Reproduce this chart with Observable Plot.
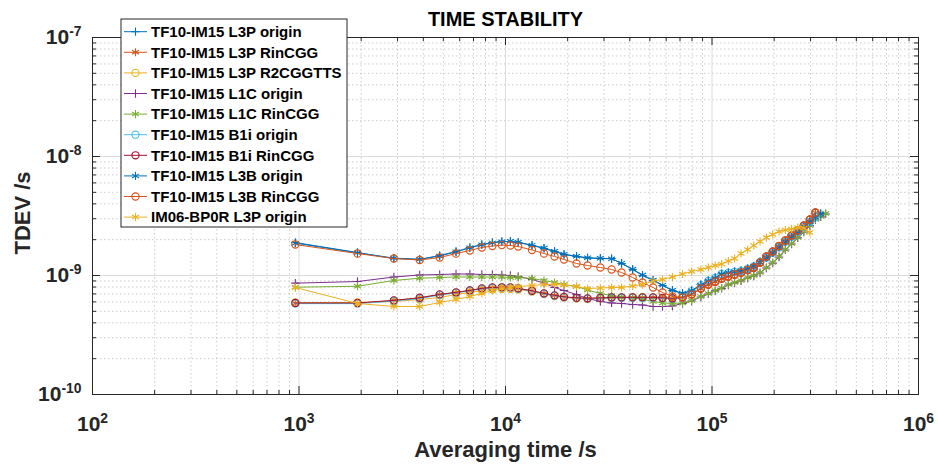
<!DOCTYPE html>
<html><head><meta charset="utf-8">
<script src="https://cdn.jsdelivr.net/npm/d3@7"></script>
<script src="https://cdn.jsdelivr.net/npm/@observablehq/plot@0.6"></script>
<style>body{margin:0;background:#fff;} #chart{width:938px;height:465px;}</style>
</head><body><div id="chart"></div>
<script>
// ---------- data ----------
const title = "TIME STABILITY";
const xLabel = "Averaging time /s";
const yLabel = "TDEV /s";
const xTicks = [1e2, 1e3, 1e4, 1e5, 1e6];
const yTicks = [1e-10, 1e-9, 1e-8, 1e-7];

// averaging times (s)
const taus = [960,1920,2880,3840,4800,5760,6720,7680,8640,9600,10560,11520,13440,15360,17280,19200,22080,24960,28800,32640,36480,41280,46080,51840,57600,64320,72000,79680,88320,96000,103680,111360,120000,128640,138240,148800,159360,170880,183360,196800,211200,226560,242880,260160,278400,297600,316800,336000,355200];

const seriesNames = ["TF10-IM15 L3P origin","TF10-IM15 L3P RinCGG","TF10-IM15 L3P R2CGGTTS","TF10-IM15 L1C origin","TF10-IM15 L1C RinCGG","TF10-IM15 B1i origin","TF10-IM15 B1i RinCGG","TF10-IM15 L3B origin","TF10-IM15 L3B RinCGG","IM06-BP0R L3P origin"];
const seriesColors = ["#0072BD","#D95319","#EDB120","#7E2F8E","#77AC30","#4DBEEE","#A2142F","#0072BD","#D95319","#EDB120"];
const seriesSymbols = ["plus","asterisk","circle","plus","asterisk","circle","circle","asterisk","circle","asterisk"];

// TDEV values in ns (converted to s below)
const l3pOrigin = [1.893,1.560,1.389,1.363,1.473,1.591,1.719,1.821,1.893,1.930,1.930,1.893,1.787,1.686,1.591,1.501,1.444,1.403,1.389,1.389,1.261,1.123,1.000,0.908,0.824,0.748,0.706,0.748,0.840,0.908,0.962,1.039,1.060,1.080,1.102,1.145,1.202,1.311,1.417,1.560,1.735,1.930,2.127,2.343,2.581,2.843,3.10,3.319];
const l3pRinCGG = [0.585,0.585,0.616,0.647,0.692,0.720,0.748,0.778,0.793,0.793,0.793,0.778,0.741,0.706,0.679,0.660,0.647,0.641,0.647,0.653,0.653,0.653,0.653,0.653,0.647,0.641,0.653,0.692,0.775,0.836,0.885,0.940,0.977,1.015,1.055,1.108,1.160,1.280,1.440,1.585,1.765,1.960,2.160,2.380,2.620,2.940,3.360];
const l3pR2CGGTTS = [0.593,0.593,0.605,0.628,0.653,0.692,0.720,0.748,0.763,0.770,0.770,0.763,0.734,0.699,0.672,0.653,0.641,0.634,0.641,0.647,0.653,0.660,0.660,0.653,0.647,0.653,0.666,0.699,0.780,0.840,0.888,0.942,0.979,1.018,1.058,1.110,1.163,1.283,1.442,1.588,1.768,1.964,2.164,2.384,2.626,2.948,3.370];
const l1cOrigin = [0.862,0.890,0.971,1.010,1.020,1.030,1.030,1.020,1.020,1.010,1.000,0.981,0.926,0.865,0.793,0.748,0.692,0.641,0.605,0.588,0.582,0.571,0.565,0.549,0.549,0.554,0.582,0.610,0.660,0.700,0.742,0.780,0.832,0.865,0.900,0.953,0.990,1.050,1.156,1.270,1.430,1.640,1.840,2.070,2.320,2.610,2.930,3.110,3.290];
const l1cRinCGG = [0.797,0.812,0.908,0.949,0.962,0.971,0.971,0.971,0.971,0.971,0.962,0.962,0.944,0.908,0.873,0.840,0.808,0.755,0.706,0.679,0.660,0.647,0.634,0.605,0.588,0.582,0.588,0.616,0.666,0.706,0.748,0.785,0.840,0.873,0.908,0.962,1.000,1.060,1.167,1.286,1.444,1.654,1.857,2.086,2.343,2.632,2.955,3.132,3.319];
const b1iOrigin = [0.580,0.580,0.610,0.640,0.685,0.715,0.745,0.770,0.785,0.790,0.790,0.776,0.740,0.700,0.675,0.657,0.645,0.640,0.645,0.650,0.650,0.650,0.650,0.650,0.645,0.640,0.650,0.740,0.830,0.900,0.955,1.030,1.050,1.070,1.090,1.135,1.190,1.300,1.410,1.550,1.725,1.920,2.115,2.330,2.570,2.830,3.090];
const b1iRinCGG = [0.588,0.588,0.618,0.650,0.694,0.722,0.750,0.780,0.795,0.796,0.795,0.780,0.744,0.708,0.681,0.662,0.649,0.643,0.648,0.655,0.655,0.655,0.655,0.655,0.649,0.643,0.655,0.694,0.777,0.838,0.887,0.942,0.979,1.017,1.057,1.110,1.163,1.283,1.442,1.588,1.768,1.964,2.164,2.384,2.626,2.948,3.370];
const l3bOrigin = [1.87,1.55,1.40,1.37,1.46,1.58,1.71,1.81,1.88,1.92,1.94,1.90,1.80,1.70,1.60,1.51,1.45,1.41,1.395,1.38,1.27,1.13,1.01,0.915,0.83,0.752,0.71,0.745,0.83,0.90,0.955,1.03,1.055,1.075,1.095,1.14,1.195,1.30,1.41,1.55,1.725,1.92,2.12,2.33,2.57,2.83,3.08,3.30];
const l3bRinCGG = [1.821,1.530,1.389,1.350,1.417,1.530,1.622,1.719,1.770,1.800,1.787,1.752,1.638,1.530,1.444,1.363,1.261,1.214,1.167,1.123,1.060,0.962,0.873,0.793,0.720,0.666,0.653,0.692,0.778,0.840,0.890,0.944,0.981,1.020,1.060,1.112,1.167,1.286,1.444,1.591,1.770,1.968,2.168,2.389,2.632,2.955,3.383];
const im06Origin = [0.793,0.582,0.549,0.549,0.593,0.628,0.666,0.706,0.748,0.778,0.793,0.808,0.824,0.840,0.840,0.832,0.808,0.778,0.785,0.793,0.793,0.816,0.840,0.899,0.926,0.971,1.030,1.080,1.123,1.167,1.214,1.249,1.324,1.389,1.530,1.654,1.787,1.930,2.086,2.211,2.343,2.412,2.460,2.532,2.510,2.298];

const seriesValues = [l3pOrigin,l3pRinCGG,l3pR2CGGTTS,l1cOrigin,l1cRinCGG,b1iOrigin,b1iRinCGG,l3bOrigin,l3bRinCGG,im06Origin];
const NS = 1e-9;

// ---------- build ----------
const rows = [];
seriesValues.forEach((vals, i) => vals.forEach((v, j) => rows.push({idx: i, tau: taus[j], tdev: v * NS})));

const W = 938, H = 465, mL = 92, mR = 20, mT = 37, mB = 71;
const innerW = W - mL - mR, innerH = H - mT - mB;

const minorX = [], minorY = [];
for (let k = 2; k < 6; k++) for (let m = 2; m < 10; m++) minorX.push(m * Math.pow(10, k));
for (let k = -10; k < -7; k++) for (let m = 2; m < 10; m++) minorY.push(m * Math.pow(10, k));

const symR = {plus: 2.8, asterisk: 3.8, circle: 3.6};
const axisColor = "#262626";
const marks = [
  Plot.ruleX(minorX, {stroke: "#bfbfbf", strokeDasharray: "1.5,2.5", strokeWidth: 0.8}),
  Plot.ruleY(minorY, {stroke: "#bfbfbf", strokeDasharray: "1.5,2.5", strokeWidth: 0.8}),
  Plot.ruleX(xTicks, {stroke: "#dcdcdc", strokeWidth: 1}),
  Plot.ruleY(yTicks, {stroke: "#dcdcdc", strokeWidth: 1}),
];
seriesValues.forEach((_, i) => {
  const d = rows.filter(r => r.idx === i);
  marks.push(Plot.line(d, {x: "tau", y: "tdev", stroke: seriesColors[i], strokeWidth: 1}));
  marks.push(Plot.dot(d, {x: "tau", y: "tdev", stroke: seriesColors[i], symbol: seriesSymbols[i], r: symR[seriesSymbols[i]], strokeWidth: 1.1, fill: "none"}));
});
marks.push(
  // inward ticks on all four sides
  Plot.ruleX(xTicks, {stroke: axisColor, insetTop: innerH - 8}),
  Plot.ruleX(xTicks, {stroke: axisColor, insetBottom: innerH - 8}),
  Plot.ruleX(minorX, {stroke: axisColor, insetTop: innerH - 4}),
  Plot.ruleX(minorX, {stroke: axisColor, insetBottom: innerH - 4}),
  Plot.ruleY(yTicks, {stroke: axisColor, insetRight: innerW - 8}),
  Plot.ruleY(yTicks, {stroke: axisColor, insetLeft: innerW - 8}),
  Plot.ruleY(minorY, {stroke: axisColor, insetRight: innerW - 4}),
  Plot.ruleY(minorY, {stroke: axisColor, insetLeft: innerW - 4}),
  Plot.frame({stroke: axisColor, strokeWidth: 1}),
  Plot.axisX({ticks: xTicks, tickSize: 0, tickPadding: 22, label: null, fontSize: 21, fontWeight: "bold",
    tickFormat: d => "10^" + Math.round(Math.log10(d))}),
  Plot.axisY({ticks: yTicks, tickSize: 0, tickPadding: 11, label: null, fontSize: 21, fontWeight: "bold",
    tickFormat: d => "10^" + Math.round(Math.log10(d))}),
  Plot.text([title], {text: d => d, frameAnchor: "top", lineAnchor: "middle", textAnchor: "middle", dy: -18, fontSize: 20, fontWeight: "bold", fill: "#000"}),
  Plot.text([xLabel], {text: d => d, frameAnchor: "bottom", lineAnchor: "middle", textAnchor: "middle", dy: 55, fontSize: 22, fontWeight: "bold", fill: axisColor}),
  Plot.text([yLabel], {text: d => d, frameAnchor: "left", lineAnchor: "middle", textAnchor: "middle", rotate: -90, dx: -70, dy: -3, fontSize: 22, fontWeight: "bold", fill: axisColor})
);

const chart = Plot.plot({
  width: W, height: H,
  marginLeft: mL, marginRight: mR, marginTop: mT, marginBottom: mB,
  x: {type: "log", domain: [1e2, 1e6]},
  y: {type: "log", domain: [1e-10, 1e-7]},
  style: {fontFamily: "'Liberation Sans', Arial, sans-serif", background: "white", color: axisColor, overflow: "visible"},
  marks
});
document.getElementById("chart").appendChild(chart);

// superscript exponents in tick labels
const svg = d3.select(chart);
svg.selectAll('g[aria-label$="tick label"] text').each(function() {
  const t = d3.select(this);
  const s = t.text();
  if (!s.includes("^")) return;
  const [b, e] = s.split("^");
  t.text(null).attr("font-weight", "bold").attr("font-size", 21).attr("fill", axisColor);
  t.append("tspan").text(b);
  t.append("tspan").attr("dy", "-0.6em").attr("font-size", "0.66em").text(e);
});

// legend
const sym = {plus: d3.symbolPlus, asterisk: d3.symbolAsterisk, circle: d3.symbolCircle};
const lg = svg.append("g").attr("class", "legend").attr("text-anchor", "start");
lg.append("rect").attr("x", 121).attr("y", 19).attr("width", 226).attr("height", 208)
  .attr("fill", "white").attr("stroke", axisColor).attr("stroke-width", 1);
seriesNames.forEach((name, i) => {
  const y = 31.7 + i * 20.6;
  const r = symR[seriesSymbols[i]];
  lg.append("line").attr("x1", 124).attr("x2", 147).attr("y1", y).attr("y2", y)
    .attr("stroke", seriesColors[i]).attr("stroke-width", 1);
  lg.append("path").attr("transform", `translate(135.5,${y})`)
    .attr("d", d3.symbol(sym[seriesSymbols[i]], r * r * Math.PI)())
    .attr("fill", "none").attr("stroke", seriesColors[i]).attr("stroke-width", 1.1);
  lg.append("text").attr("x", 151).attr("y", y).attr("dy", "0.35em").attr("text-anchor", "start")
    .attr("font-size", 15).attr("font-weight", "bold").attr("fill", "#000").text(name);
});
</script>
</body></html>
